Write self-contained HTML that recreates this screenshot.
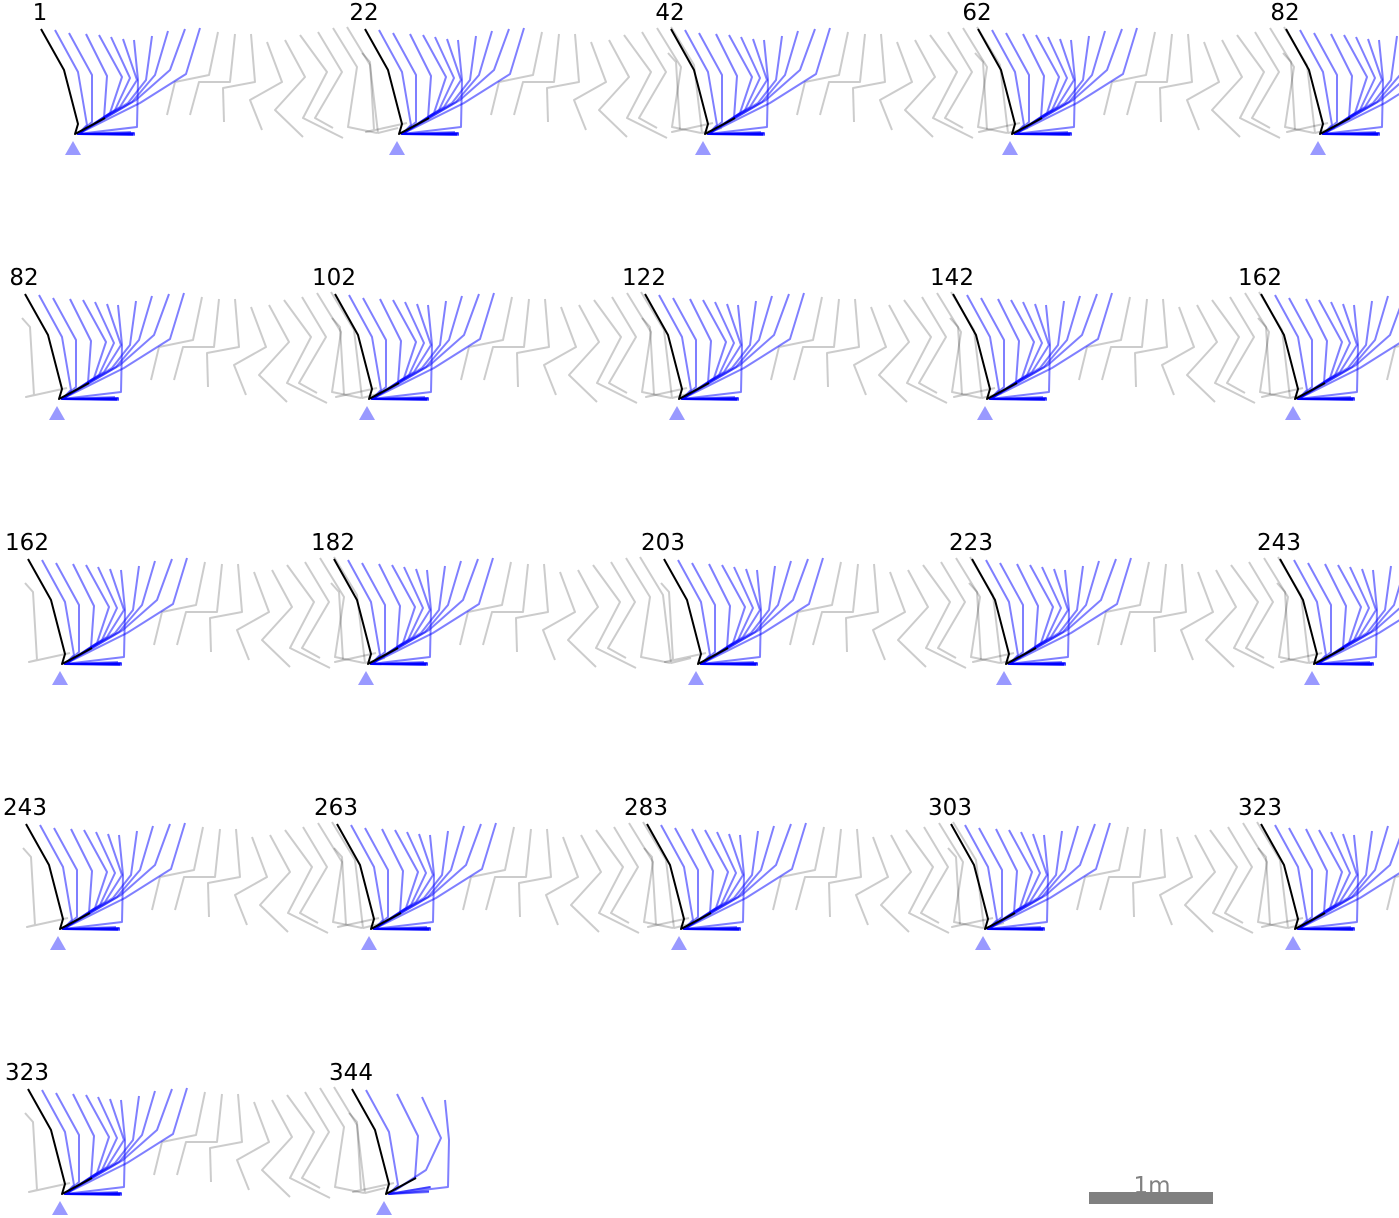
<!DOCTYPE html>
<html><head><meta charset="utf-8"><style>
html,body{margin:0;padding:0;background:#fff;}
svg{display:block;}
text{font-family:"DejaVu Sans","Liberation Sans",sans-serif;}
</style></head><body>
<svg id="chart" width="1399" height="1218" viewBox="0 0 1399 1218" xmlns="http://www.w3.org/2000/svg">
<g id="panels"></g>
<g>
<rect x="1089" y="1192" width="124" height="12" fill="#808080"/>
<text x="1152" y="1193" font-size="23" fill="#808080" text-anchor="middle">1m</text>
</g>
</svg>
<script>
// Panel data
const panelLabels = ["1","22","42","62","82","82","102","122","142","162","162","182","203","223","243","243","263","283","303","323","323","344"];
const panelX = [73,397,703,1010,1318,57,367,677,985,1293,60,366,696,1004,1312,58,369,679,983,1293,60,384];
const panelRow = [0,0,0,0,0,1,1,1,1,1,2,2,2,2,2,3,3,3,3,3,4,4];
const rowY = [148,413,678,943,1208];
const panelLast = [0,0,0,0,0,0,0,0,0,0,0,0,0,0,0,0,0,0,0,0,0,1];
// leg templates (relative to ground marker): hip, knee, ankle, toe
const blackLeg = [[-32,-119],[-9,-78],[5,-24],[2,-14],[32,-30]];
const blueHips = [[-18,-118],[-4,-115],[13,-114],[26,-113],[38,-111],[50,-109],[61,-108],[79,-112],[95,-117],[112,-119],[127,-120]];
const blueKnees = [[5,-76],[19,-73],[34,-72],[49,-71],[57,-70],[64,-68],[65,-68],[73,-68],[82,-73],[97,-78],[113,-74]];
const blueAnkles = [[14,-23],[19,-26],[31,-30],[37,-35],[42,-38],[47,-41],[64,-21],[55,-45],[59,-46],[63,-48],[67,-45]];
const blueToes = [[60,-14],[62,-14],[60,-13],[58,-14],[61,-15],[57,-14],[62,-13],[60,-14],[58,-16],[62,-15],[60,-14]];
const grayFrames = [
 [[145,-116],[136,-73],[102,-66],[94,-33]],
 [[162,-114],[157,-66],[126,-66],[117,-33]],
 [[178,-114],[182,-66],[150,-60],[151,-26]],
 [[194,-106],[209,-66],[177,-48],[189,-18]],
 [[212,-108],[232,-71],[202,-38],[230,-11]],
 [[227,-113],[254,-76],[230,-30],[270,-10]],
 [[245,-116],[269,-76],[242,-30],[260,-20]],
 [[260,-120],[284,-81],[275,-21],[304,-15]],
 [[274,-121],[297,-83],[305,-15],[325,-20]]
];
const leftGray = [[-35,-95],[-27,-86],[-23,-18],[-31,-16],[10,-25]];

const NS="http://www.w3.org/2000/svg";
const root=document.getElementById('panels');
function pl(pts,tx,ty,stroke,w,parent){
  const p=document.createElementNS(NS,'polyline');
  p.setAttribute('points',pts.map(q=>(tx+q[0])+','+(ty+q[1])).join(' '));
  p.setAttribute('fill','none');p.setAttribute('stroke',stroke);p.setAttribute('stroke-width',w);
  p.setAttribute('stroke-linejoin','round');
  parent.appendChild(p);return p;
}
panelLabels.forEach((lab,i)=>{
  const tx=panelX[i], ty=rowY[panelRow[i]];
  const g=document.createElementNS(NS,'g');
  
  
  root.appendChild(g);
  if(!panelLast[i]){
    grayFrames.forEach(f=>{
      const e=pl(f,tx,ty,'rgba(0,0,0,0.2)',2,g);
      
      
    });
  }
  if(i!==0){
    const e=pl(leftGray,tx,ty,'rgba(0,0,0,0.2)',2,g);
    
    
  }
  blueHips.forEach((h,k)=>{
    if(panelLast[i] && k%2===1) return;
    if(panelLast[i] && k>7) return;
    let toe=blueToes[k];
    if(panelLast[i]) toe=[toe[0]-15,toe[1]-2-k];
    const e=pl([h,blueKnees[k],blueAnkles[k],[5,-14],toe],tx,ty,'rgba(0,0,255,0.5)',2,g);
    
    
  });
  const b=pl(blackLeg,tx,ty,'#000',2,g);
  
  
  const t=document.createElementNS(NS,'polygon');
  t.setAttribute('points',(tx-8)+','+(ty+7)+' '+(tx+8)+','+(ty+7)+' '+tx+','+(ty-7));
  t.setAttribute('fill','#9999ff');
  
  
  g.appendChild(t);
  const tt=document.createElementNS(NS,'text');
  tt.setAttribute('x',tx-33);tt.setAttribute('y',ty-128);
  tt.setAttribute('font-size','23');tt.setAttribute('text-anchor','middle');
  tt.textContent=lab;
  
  
  g.appendChild(tt);
});
</script>
</body></html>
